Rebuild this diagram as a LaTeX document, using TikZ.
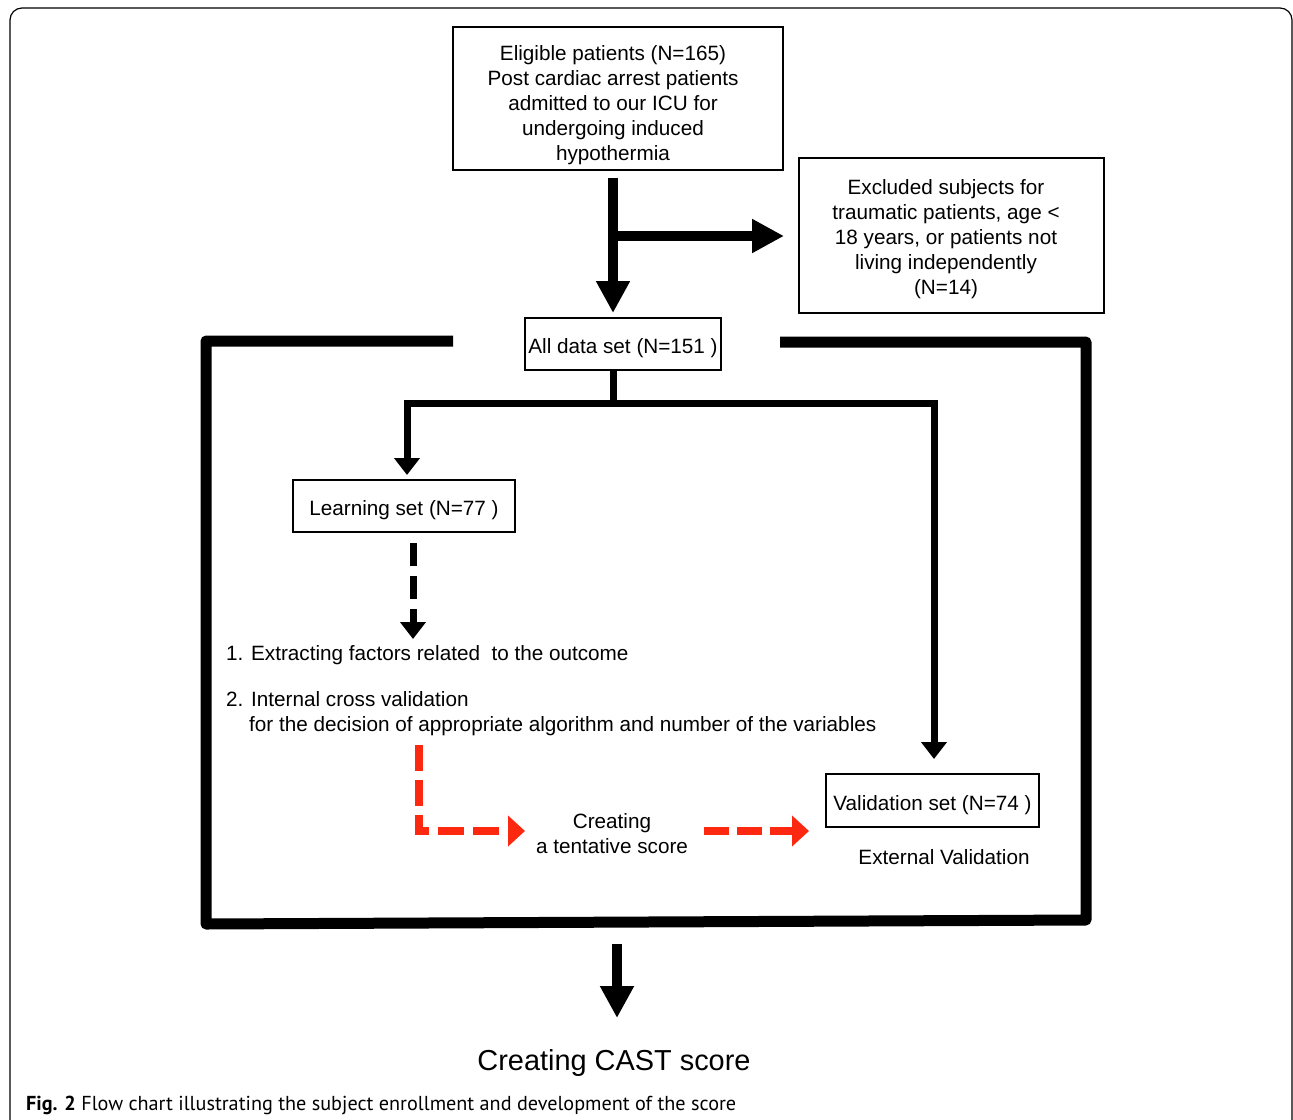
\documentclass[tikz,border=0pt]{standalone}
\usepackage{fontspec}
\setmainfont{Liberation Sans}
\newfontfamily\capfont{PT Sans}
\usetikzlibrary{arrows.meta}
\definecolor{arrred}{RGB}{252,40,15}
\begin{document}
\begin{tikzpicture}[x=1pt,y=-1pt,
  mainfont/.style={font=\fontsize{20.7}{25}\selectfont},
  box/.style={draw=black, line width=2.5pt, rectangle, inner sep=0pt, align=center, mainfont, text height=23pt, text depth=4pt},
  emptybox/.style={draw=black, line width=2.5pt, rectangle, inner sep=0pt},
  txt/.style={inner sep=0pt, align=center, mainfont},
  ltxt/.style={inner sep=0pt, text height=15pt, text depth=5pt, mainfont},
  bigarrow/.style={line width=10pt, -{Triangle[length=32pt,width=32pt]}},
  medarrow/.style={line width=7pt, -{Triangle[length=17pt,width=25pt]}},
  dasharrow/.style={line width=7pt, dash pattern=on 23pt off 10pt, -{Triangle[length=17pt,width=25pt]}},
  redarrow/.style={arrred, line width=8pt, dash pattern=on 26pt off 9pt, -{Triangle[length=17pt,width=30pt]}},
  frame/.style={line width=11pt, line join=round}
]
\useasboundingbox (0,0) rectangle (1293,1119);
% outer rounded frame
\draw[line width=1.2pt, rounded corners=12pt] (10,1160) -- (10,8) -- (1292,8) -- (1292,1160);

% boxes
\node[emptybox, minimum width=330pt, minimum height=143pt] (elig) at (618,98.5) {};
\node[txt] (eligtext) at (613,105.5)
  {Eligible patients (N=165)\\Post cardiac arrest patients\\admitted to our ICU for\\undergoing induced\\hypothermia};
\node[emptybox, minimum width=305pt, minimum height=155pt] (excl) at (951.5,235.5) {};
\node[txt] (excltext) at (946,239.5)
  {Excluded subjects for\\traumatic patients, age <\\18 years, or patients not\\living independently\\(N=14)};
\node[box, minimum width=196pt, minimum height=52pt] (all) at (623,344) {All data set (N=151 )};
\node[box, minimum width=222pt, minimum height=52pt] (learn) at (404,506) {Learning set (N=77 )};
\node[box, minimum width=213pt, minimum height=53pt] (valid) at (932.5,800.5) {Validation set (N=74 )};

% texts
\node[ltxt, anchor=west] (l1) at (226,655.5) {1. Extracting factors related\ \ to the outcome};
\node[ltxt, anchor=west] (l2) at (226,701.5) {2. Internal cross validation};
\node[ltxt, anchor=west] (l3) at (249,726.5) {for the decision of appropriate algorithm and number of the variables};
\node[txt] (tent) at (612,833.5) {Creating\\a tentative score};
\node[ltxt] (ext) at (944,859.5) {External Validation};
\node[inner sep=0pt, text height=21pt, text depth=6pt, font=\fontsize{28.9}{32}\selectfont] (cast) at (614,1063) {Creating CAST score};
\node[inner sep=0pt, anchor=west, font=\capfont\fontsize{20.2}{22}\selectfont] (cap) at (26,1105)
  {\textbf{Fig. 2} Flow chart illustrating the subject enrollment and development of the score};

% thick frame around the data split
\coordinate (fl) at (453,341);
\coordinate (fr) at (780,342);
\draw[frame] (fl) -- (206,341) -- (206,924) -- (1086,920) -- (1086,342) -- (fr);

% arrows
\coordinate (s1) at (613,178);
\coordinate (t1) at (613,313);
\draw[bigarrow] (s1) -- (t1);
\coordinate (b1) at (613,236);
\coordinate (t2) at (784,236);
\draw[bigarrow] (b1) -- (t2);

\coordinate (j0) at (613,403);
\coordinate (st) at (613,371);
\draw[line width=7pt] (st) -- (j0);
\coordinate (tipL) at (407,475);
\coordinate (tipR) at (934,759);
\draw[medarrow] (j0) -| (tipL);
\draw[medarrow] (j0) -| (tipR);

\coordinate (ds) at (413,543);
\coordinate (dt) at (413,639);
\draw[dasharrow] (ds) -- (dt);

\coordinate (r0) at (419,745);
\coordinate (r1) at (525,831);
\draw[redarrow] (r0) |- (r1);
\coordinate (r2) at (704,831);
\coordinate (r3) at (809,831);
\draw[redarrow, dash pattern=on 25pt off 8pt] (r2) -- (r3);

\coordinate (c0) at (617,944);
\coordinate (c1) at (617,1018);
\draw[bigarrow] (c0) -- (c1);
\end{tikzpicture}
\end{document}
